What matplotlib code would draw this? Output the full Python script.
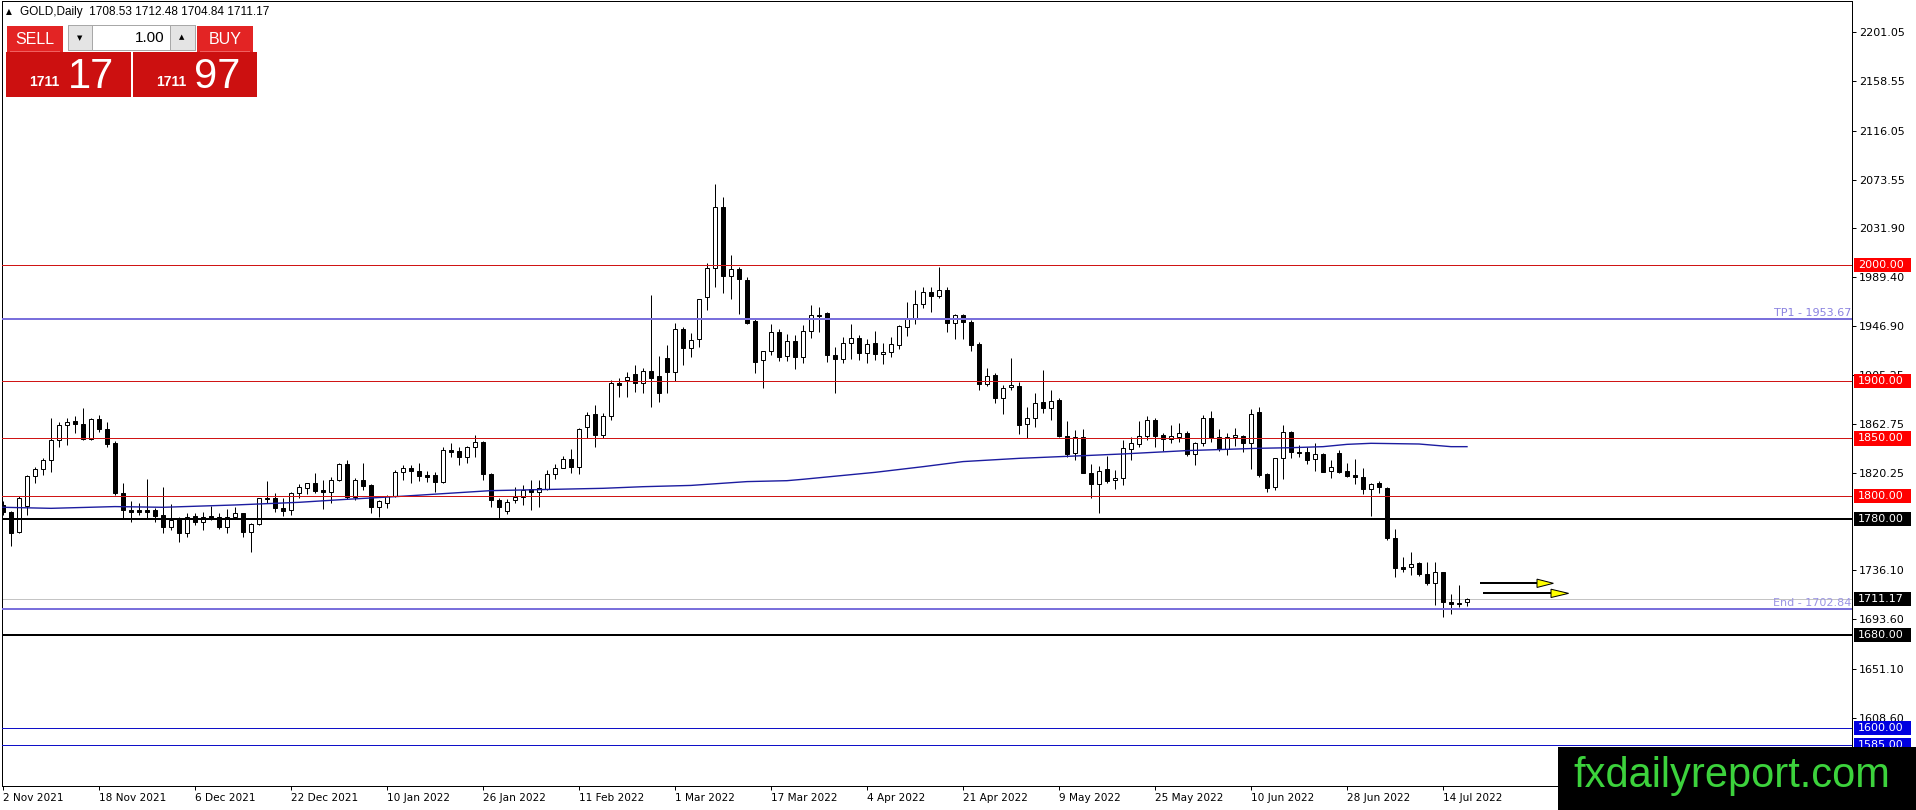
import matplotlib
matplotlib.use("Agg")
import matplotlib.pyplot as plt
import matplotlib.transforms as mtransforms
from matplotlib.patches import Rectangle, Polygon

### candle data (one bar per trading day, from 2 Nov 2021)
opens = [1792.5, 1786.2, 1769.5, 1791.5, 1817.6, 1823.3, 1831.4, 1848.7, 1861.6, 1865.1,
         1862.2, 1849.6, 1866.5, 1857.9, 1845.8, 1803.2, 1788.2, 1788.0, 1788.0, 1788.2,
         1783.9, 1773.8, 1781.0, 1768.0, 1783.3, 1777.5, 1783.0, 1781.8, 1773.8, 1781.8,
         1785.3, 1769.5, 1776.1, 1798.8, 1798.8, 1790.2, 1788.2, 1802.6, 1806.9, 1811.2,
         1805.5, 1804.0, 1814.1, 1827.9, 1799.1, 1814.1, 1809.8, 1790.5, 1794.5, 1800.3,
         1821.3, 1824.8, 1821.9, 1818.2, 1818.2, 1812.7, 1840.0, 1839.2, 1833.7, 1842.3,
         1846.7, 1819.3, 1796.8, 1787.3, 1796.8, 1799.7, 1806.1, 1803.5, 1806.1, 1819.3,
         1824.8, 1832.0, 1825.6, 1860.2, 1870.9, 1853.0, 1869.4, 1897.7, 1900.5, 1905.4,
         1897.7, 1908.3, 1904.0, 1919.3, 1907.7, 1944.3, 1927.9, 1935.7, 1972.0, 1997.0,
         2049.8, 1990.4, 1996.2, 1987.0, 1951.5, 1917.8, 1925.9, 1941.7, 1921.6, 1934.5,
         1920.7, 1943.2, 1956.7, 1958.7, 1922.1, 1918.4, 1932.2, 1936.5, 1924.2, 1932.2,
         1923.0, 1924.4, 1930.8, 1946.6, 1953.0, 1965.9, 1976.9, 1973.1, 1978.3, 1949.5,
         1956.7, 1950.4, 1931.4, 1897.1, 1904.9, 1884.7, 1894.2, 1895.3, 1862.2, 1867.4,
         1881.2, 1876.0, 1883.2, 1852.1, 1837.1, 1851.6, 1820.4, 1810.6, 1823.3, 1814.1,
         1815.5, 1840.6, 1844.9, 1852.1, 1865.9, 1853.0, 1849.5, 1851.6, 1854.4, 1836.6,
         1845.8, 1867.4, 1851.0, 1840.9, 1851.0, 1852.1, 1846.4, 1873.2, 1819.3, 1807.8,
         1832.8, 1855.9, 1838.6, 1838.0, 1832.0, 1836.6, 1821.9, 1837.7, 1821.9, 1818.1,
         1816.4, 1806.0, 1811.2, 1806.9, 1763.7, 1738.6, 1739.2, 1742.6, 1732.9, 1724.8,
         1734.3, 1708.4, 1707.5, 1708.53]
highs = [1796.0, 1787.0, 1800.0, 1818.5, 1825.6, 1832.8, 1867.4, 1864.5, 1867.4, 1869.4,
         1876.0, 1867.4, 1870.3, 1864.5, 1848.1, 1811.2, 1796.0, 1794.0, 1814.7, 1789.6,
         1808.3, 1793.4, 1782.4, 1785.3, 1785.3, 1786.8, 1791.9, 1785.9, 1788.7, 1790.5,
         1785.9, 1777.2, 1798.3, 1813.5, 1803.2, 1798.8, 1804.0, 1810.6, 1811.8, 1819.9,
         1814.1, 1816.4, 1828.5, 1831.4, 1815.5, 1829.1, 1810.5, 1796.5, 1801.2, 1822.8,
         1827.1, 1827.1, 1829.1, 1822.2, 1821.3, 1842.9, 1846.4, 1842.9, 1843.5, 1853.0,
         1848.1, 1820.0, 1798.3, 1797.4, 1807.8, 1809.8, 1814.1, 1814.1, 1822.8, 1827.9,
         1834.9, 1840.6, 1858.8, 1873.2, 1878.9, 1871.7, 1900.5, 1902.0, 1907.7, 1913.5,
         1910.6, 1974.0, 1921.3, 1930.8, 1949.5, 1946.0, 1941.4, 1970.3, 2001.9, 2070.0,
         2058.4, 2008.6, 1998.5, 1989.3, 1953.0, 1925.9, 1948.9, 1944.3, 1940.3, 1939.4,
         1948.1, 1965.4, 1963.9, 1959.6, 1928.8, 1937.4, 1948.9, 1939.4, 1935.7, 1943.2,
         1932.8, 1937.4, 1948.1, 1968.2, 1978.3, 1980.6, 1980.6, 1998.5, 1981.2, 1957.6,
         1957.6, 1952.4, 1933.7, 1910.6, 1906.3, 1896.2, 1919.3, 1899.1, 1876.9, 1889.0,
         1909.2, 1891.9, 1884.7, 1865.4, 1857.3, 1857.9, 1827.6, 1826.2, 1834.9, 1822.8,
         1848.7, 1851.6, 1865.4, 1869.4, 1867.4, 1854.4, 1861.6, 1863.1, 1856.7, 1847.2,
         1870.3, 1874.0, 1857.9, 1854.4, 1858.8, 1853.0, 1875.2, 1877.5, 1820.0, 1832.8,
         1861.6, 1856.7, 1844.4, 1842.3, 1846.4, 1837.2, 1831.4, 1840.0, 1828.5, 1832.0,
         1824.2, 1811.2, 1813.5, 1808.3, 1771.5, 1747.8, 1751.6, 1743.5, 1742.9, 1743.5,
         1734.9, 1715.6, 1723.4, 1712.48]
lows = [1784.0, 1757.4, 1768.0, 1784.0, 1811.2, 1818.4, 1821.3, 1842.3, 1844.4, 1855.0,
        1848.7, 1848.7, 1855.9, 1842.3, 1801.2, 1781.0, 1777.5, 1783.9, 1781.0, 1778.1,
        1768.6, 1770.9, 1760.8, 1765.1, 1775.2, 1770.9, 1779.5, 1771.5, 1768.6, 1781.0,
        1765.1, 1752.2, 1775.2, 1794.0, 1786.8, 1783.0, 1783.9, 1798.3, 1802.0, 1803.2,
        1788.7, 1794.5, 1813.5, 1797.4, 1796.8, 1805.5, 1785.3, 1781.9, 1789.6, 1799.7,
        1814.1, 1811.2, 1813.5, 1812.7, 1804.0, 1811.8, 1834.3, 1827.1, 1828.5, 1833.7,
        1814.1, 1790.5, 1781.0, 1784.4, 1794.5, 1792.5, 1788.2, 1791.1, 1805.5, 1814.7,
        1824.2, 1820.4, 1819.3, 1850.1, 1842.9, 1850.1, 1866.0, 1885.5, 1886.1, 1890.4,
        1889.0, 1877.5, 1881.8, 1889.6, 1900.0, 1913.5, 1920.7, 1928.8, 1961.0, 1980.6,
        1975.4, 1970.3, 1957.6, 1948.9, 1906.3, 1893.9, 1922.1, 1917.2, 1917.2, 1909.7,
        1914.9, 1936.5, 1942.3, 1916.4, 1889.0, 1914.9, 1918.4, 1917.8, 1914.9, 1917.8,
        1914.4, 1920.7, 1927.0, 1938.6, 1948.9, 1962.5, 1959.6, 1971.1, 1942.3, 1935.7,
        1935.7, 1925.9, 1891.9, 1895.4, 1880.4, 1871.2, 1891.9, 1853.9, 1850.1, 1860.2,
        1871.7, 1866.0, 1851.0, 1834.3, 1831.4, 1819.9, 1798.2, 1785.9, 1811.2, 1806.0,
        1809.8, 1831.4, 1842.9, 1848.7, 1842.3, 1839.5, 1846.4, 1847.2, 1834.9, 1827.1,
        1843.5, 1847.2, 1839.5, 1835.7, 1843.5, 1838.6, 1823.3, 1817.0, 1804.0, 1805.5,
        1814.7, 1832.8, 1833.7, 1827.9, 1822.2, 1821.3, 1815.5, 1820.4, 1817.0, 1810.6,
        1802.0, 1783.0, 1802.6, 1762.2, 1730.6, 1734.9, 1732.0, 1731.2, 1723.4, 1706.0,
        1696.0, 1698.3, 1704.6, 1704.84]
closes = [1786.5, 1768.6, 1798.8, 1817.6, 1823.6, 1831.4, 1848.7, 1861.6, 1864.0, 1862.2,
          1849.6, 1866.5, 1857.9, 1844.9, 1803.2, 1788.2, 1786.8, 1786.5, 1786.8, 1783.3,
          1773.2, 1779.5, 1768.0, 1782.4, 1777.5, 1782.4, 1781.5, 1773.8, 1781.8, 1785.3,
          1769.5, 1776.1, 1798.3, 1797.4, 1789.6, 1787.6, 1802.6, 1807.8, 1811.2, 1804.9,
          1803.5, 1814.1, 1827.9, 1799.1, 1814.1, 1809.0, 1790.5, 1796.0, 1800.3, 1821.3,
          1824.8, 1821.9, 1817.6, 1817.0, 1812.7, 1840.0, 1838.0, 1833.7, 1842.3, 1846.7,
          1819.3, 1796.8, 1790.5, 1795.4, 1799.7, 1805.5, 1803.5, 1806.9, 1819.3, 1824.8,
          1832.0, 1825.6, 1857.9, 1870.3, 1853.0, 1869.4, 1897.7, 1896.5, 1903.4, 1897.7,
          1908.3, 1902.6, 1889.0, 1907.7, 1944.3, 1927.9, 1935.1, 1970.3, 1997.0, 2049.8,
          1990.4, 1996.2, 1987.5, 1950.1, 1916.4, 1925.9, 1941.7, 1920.7, 1934.5, 1920.7,
          1943.2, 1956.7, 1955.8, 1922.1, 1918.4, 1932.2, 1936.5, 1924.2, 1931.4, 1922.7,
          1924.4, 1931.4, 1947.2, 1953.0, 1965.9, 1976.9, 1973.1, 1978.3, 1949.5, 1956.7,
          1950.4, 1930.8, 1897.1, 1904.0, 1884.7, 1893.3, 1896.2, 1861.6, 1867.4, 1880.4,
          1876.0, 1882.4, 1852.1, 1836.6, 1851.6, 1820.4, 1810.6, 1822.2, 1813.5, 1815.5,
          1841.5, 1845.8, 1852.1, 1865.9, 1852.1, 1849.5, 1852.4, 1854.4, 1836.6, 1845.8,
          1867.4, 1850.1, 1840.9, 1851.0, 1853.0, 1846.4, 1871.2, 1818.4, 1806.9, 1832.8,
          1855.9, 1838.0, 1837.2, 1831.4, 1836.6, 1821.3, 1825.6, 1821.3, 1817.8, 1816.4,
          1806.0, 1810.4, 1807.8, 1763.7, 1737.8, 1737.2, 1741.5, 1732.9, 1724.8, 1734.3,
          1708.4, 1706.6, 1706.6, 1711.17]

### moving average line, read at some bars
ma_bars = [0, 6, 14, 20, 29, 37, 43, 50, 61, 75, 80, 86, 93, 98, 100, 109, 115, 120,
           127, 135, 140, 148, 157, 161, 165, 168, 171, 177, 181, 183]
ma_vals = [1790.5, 1789.6, 1791.1, 1790.5, 1792.5, 1794.8, 1797.4, 1800.1, 1804.9, 1806.9,
           1808.3, 1809.4, 1812.7, 1813.5, 1814.7, 1820.7, 1825.6, 1830.0, 1832.8, 1835.1,
           1836.6, 1839.5, 1841.5, 1842.0, 1842.9, 1844.9, 1845.8, 1845.2, 1842.9, 1842.9]

### axis labels
date_bars = [0, 12, 24, 36, 48, 60, 72, 84, 96, 108, 120, 132, 144, 156, 168, 180]
date_labels = ['2 Nov 2021', '18 Nov 2021', '6 Dec 2021', '22 Dec 2021', '10 Jan 2022',
               '26 Jan 2022', '11 Feb 2022', '1 Mar 2022', '17 Mar 2022', '4 Apr 2022',
               '21 Apr 2022', '9 May 2022', '25 May 2022', '10 Jun 2022', '28 Jun 2022',
               '14 Jul 2022']
price_ticks = [2201.05, 2158.55, 2116.05, 2073.55, 2031.90, 1989.40, 1946.90, 1905.25,
               1862.75, 1820.25, 1736.10, 1693.60, 1651.10, 1608.60]

### horizontal levels
red_levels = [2000.0, 1900.0, 1850.0, 1800.0]
black_levels = [1780.0, 1680.0]
blue_levels = [1600.0, 1585.0]
tp1 = 1953.67
end_level = 1702.84
bid = 1711.17

### the two arrows (start bar, head bar, tip bar, price)
arrow_rows = [(184.75, 191.75, 193.8, 1724.8), (185.1, 193.5, 195.7, 1716.1)]

W, H = 1916, 810
plt.rcParams['font.family'] = ['DejaVu Sans']

fig = plt.figure(figsize=(W / 100, H / 100), dpi=100)
fig.patch.set_facecolor('white')
ax = fig.add_axes([2 / W, 24 / H, 1850 / W, 785 / H])
ax.set_xlim(-0.125, 231.125)
ax.set_ylim(1549.6, 2228.1)

px = 0.72  # one pixel in points

''' Candles '''
idx = list(range(len(opens)))
ax.vlines(idx, lows, highs, color='black', linewidth=px, zorder=3)
for i in idx:
    o, c = opens[i], closes[i]
    face = 'white' if c >= o else 'black'
    ax.bar(i, abs(c - o), bottom=min(o, c), width=0.6, color=face,
           edgecolor='black', linewidth=px, zorder=3)

''' Lines '''
ax.plot(ma_bars, ma_vals, color='#1c1ca0', linewidth=1.0, zorder=4)
for lv in red_levels:
    ax.axhline(lv, color='#d01515', linewidth=px, zorder=4)
for lv in black_levels:
    ax.axhline(lv, color='black', linewidth=2 * px, zorder=4)
for lv in blue_levels:
    ax.axhline(lv, color='#1010c8', linewidth=px, zorder=4)
ax.axhline(tp1, color='#7a70dc', linewidth=2 * px, zorder=4)
ax.axhline(end_level, color='#7a70dc', linewidth=2 * px, zorder=4)
ax.axhline(bid, color='#c4c4c4', linewidth=px, zorder=2)

trans_r = mtransforms.blended_transform_factory(ax.transAxes, ax.transData)
ax.text(0.9995, tp1 + 0.6, 'TP1 - 1953.67', transform=trans_r, ha='right', va='bottom',
        fontsize=8, color='#8a82e0', zorder=5)
ax.text(0.9995, end_level + 0.6, 'End - 1702.84', transform=trans_r, ha='right', va='bottom',
        fontsize=8, color='#9a94e4', zorder=5)

for x0, xh, xt, p in arrow_rows:
    ax.plot([x0, xh], [p, p], color='black', linewidth=2 * px, zorder=5)
    tri = Polygon([[xh, p + 3.6], [xh, p - 3.6], [xt, p]], closed=True,
                  facecolor='#ffff00', edgecolor='black', linewidth=px, zorder=6)
    ax.add_patch(tri)

''' Axes '''
for s in ax.spines.values():
    s.set_linewidth(px)
ax.yaxis.tick_right()
ax.set_yticks(price_ticks)
ax.set_yticklabels(['%.2f' % t for t in price_ticks])
ax.tick_params(axis='y', length=3, width=px, pad=2, labelsize=8)
ax.set_xticks(date_bars)
ax.set_xticklabels(date_labels, ha='left')
ax.tick_params(axis='x', length=3, width=px, pad=2, labelsize=7.6)

''' Price tags on the right '''
trans_f = mtransforms.blended_transform_factory(fig.transFigure, ax.transData)


def tag(price, text, face):
    fig.add_artist(Rectangle((1854 / W, price - 6.1), 57 / W, 12.2, transform=trans_f,
                             facecolor=face, edgecolor='none', zorder=5))
    fig.text(1858 / W, price, text, transform=trans_f, color='white', fontsize=8,
             va='center', ha='left', zorder=6)


for lv in red_levels:
    tag(lv, '%.2f' % lv, '#ff0000')
for lv in black_levels:
    tag(lv, '%.2f' % lv, 'black')
tag(bid, '%.2f' % bid, 'black')
for lv in blue_levels:
    tag(lv, '%.2f' % lv, '#0000e0')

''' Top left panel '''


def box(x, y, w, h, face, edge='none'):
    fig.add_artist(Rectangle((x / W, 1 - (y + h) / H), w / W, h / H, transform=fig.transFigure,
                             facecolor=face, edgecolor=edge, linewidth=px, zorder=7))


def label(x, y, s, **kw):
    fig.text(x / W, 1 - y / H, s, zorder=8, **kw)


label(6, 12, '\u25b2', fontsize=5.5, va='center', ha='left')
label(20, 12, 'GOLD,Daily  1708.53 1712.48 1704.84 1711.17', fontsize=8.5, va='center',
      ha='left', family='Liberation Sans')

box(7, 26, 56, 26, '#e32424')
box(197, 26, 56, 26, '#e32424')
box(10, 51, 50, 1, '#f06060')
box(200, 51, 50, 1, '#f06060')
box(68, 25, 127, 25, 'white', '#a8a8a8')
box(68, 25, 24, 25, '#e4e4e4', '#a8a8a8')
box(170, 25, 25, 25, '#e4e4e4', '#a8a8a8')
box(6, 52, 125, 45, '#cc1010')
box(133, 52, 124, 45, '#cc1010')
label(35, 39, 'SELL', fontsize=11.5, color='white', ha='center', va='center',
      family='Liberation Sans')
label(225, 39, 'BUY', fontsize=11.5, color='white', ha='center', va='center',
      family='Liberation Sans')
label(80, 38, '\u25bc', fontsize=5, ha='center', va='center')
label(182, 37, '\u25b2', fontsize=5, ha='center', va='center')
label(165, 38, '1.00', fontsize=11, ha='right', va='center', family='Liberation Sans')
label(29, 86, '1711', fontsize=10, color='white', fontweight='bold', ha='left',
      va='baseline', family='Liberation Sans')
label(68, 88, '17', fontsize=30, color='white', ha='left', va='baseline',
      family='Liberation Sans')
label(156, 86, '1711', fontsize=10, color='white', fontweight='bold', ha='left',
      va='baseline', family='Liberation Sans')
label(194, 88, '97', fontsize=30, color='white', ha='left', va='baseline',
      family='Liberation Sans')

''' Watermark '''
fig.add_artist(Rectangle((1558 / W, 0), (W - 1558) / W, 63 / H, transform=fig.transFigure,
                         facecolor='black', edgecolor='none', zorder=9))
fig.text(1573 / W, 1 - 787 / H, 'fxdailyreport.com', fontsize=30, color='#3cd23c',
         ha='left', va='baseline', family='Liberation Sans', zorder=10)

fig.savefig('out.png', dpi=100)
